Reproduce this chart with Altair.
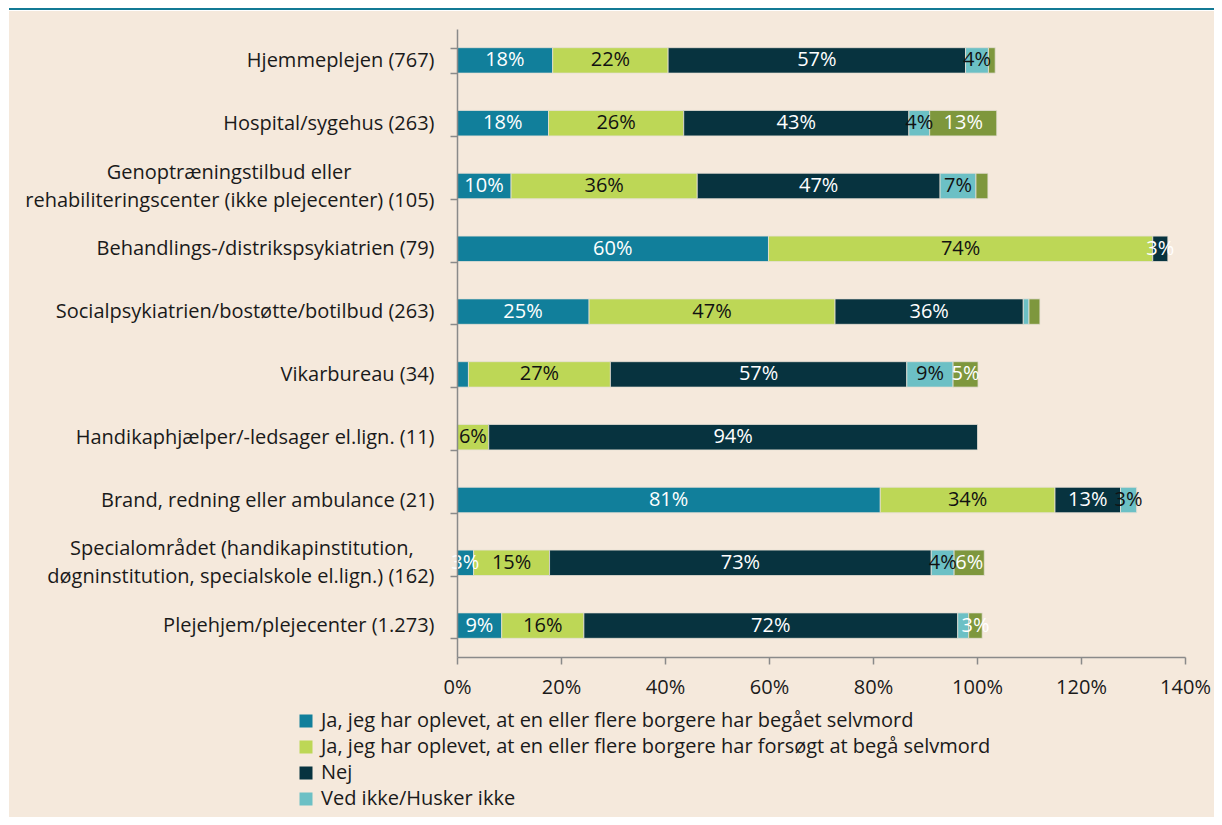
import altair as alt
import pandas as pd

NB = "\u00a0"
ZW = "\u200b"
categories = [
    "Hjemmeplejen (767)",
    "Hospital/sygehus (263)",
    "Genoptræningstilbud eller" + NB * 16 + ZW + "|rehabiliteringscenter (ikke plejecenter) (105)",
    "Behandlings-/distrikspsykiatrien (79)",
    "Socialpsykiatrien/bostøtte/botilbud (263)",
    "Vikarbureau (34)",
    "Handikaphjælper/-ledsager el.lign. (11)",
    "Brand, redning eller ambulance (21)",
    "Specialområdet (handikapinstitution," + NB * 4 + ZW + "|døgninstitution, specialskole el.lign.) (162)",
    "Plejehjem/plejecenter (1.273)",
]

series = [
    "Ja, jeg har oplevet, at en eller flere borgere har begået selvmord",
    "Ja, jeg har oplevet, at en eller flere borgere har forsøgt at begå selvmord",
    "Nej",
    "Ved ikke/Husker ikke",
    "Øvrige",
]

begaaet = [18.4, 17.6, 10.4, 59.9, 25.4, 2.2, 0.0, 81.4, 3.2, 8.6]
forsoegt = [22.2, 26.0, 35.8, 73.9, 47.3, 27.3, 6.1, 33.6, 14.6, 15.8]
nej = [57.2, 43.3, 46.7, 2.9, 36.2, 57.0, 94.0, 12.6, 73.4, 71.9]
ved_ikke = [4.4, 4.0, 6.9, 0.0, 1.1, 8.9, 0.0, 3.1, 4.4, 2.1]
oevrige = [1.3, 12.9, 2.3, 0.0, 2.1, 4.8, 0.0, 0.0, 5.8, 2.6]

x_ticks = [0, 20, 40, 60, 80, 100, 120, 140]

colors = ["#117f9b", "#bdd756", "#07333f", "#6cc0c5", "#7e973d"]
BEIGE = "#f5e9dc"
TEAL = "#137a95"
FONT = "Open Sans"
TXT = "#1a1a1a"
AX = "#8a8a8a"

lists = [begaaet, forsoegt, nej, ved_ikke, oevrige]
rows = []
for i, c in enumerate(categories):
    for j, s in enumerate(series):
        rows.append({"cat": c, "series": s, "order": j, "value": lists[j][i]})
df = pd.DataFrame(rows)

base = alt.Chart(df).transform_filter("datum.value > 0").transform_stack(
    stack="value", groupby=["cat"], sort=[alt.SortField("order", order="ascending")], as_=["x0", "x1"]
).transform_calculate(mid="(datum.x0 + datum.x1) / 2")

y_enc = alt.Y(
    "cat:N",
    sort=categories,
    scale=alt.Scale(paddingInner=0.595, paddingOuter=0.2975),
    axis=alt.Axis(
        title=None, tickBand="extent", labelExpr="split(datum.label, '|')",
        labelFont=FONT, labelFontSize=20, labelLineHeight=28, labelPadding=16,
        labelOffset={"condition": {"test": "indexof(datum.label, '|') >= 0", "value": -14}, "value": 0},
        labelLimit=600, labelColor=TXT, tickSize=7, tickColor=AX, tickWidth=1.5,
        domainColor=AX, domainWidth=1.5, zindex=1,
    ),
)

bars = base.mark_bar(stroke="#e6e0d6", strokeWidth=0.8).encode(
    x=alt.X(
        "x0:Q",
        scale=alt.Scale(domain=[0, 140], nice=False),
        axis=alt.Axis(
            title=None, values=x_ticks, labelExpr="datum.value + '%'", grid=False,
            labelFont=FONT, labelFontSize=20, labelColor=TXT, labelPadding=13,
            tickSize=7, tickColor=AX, tickWidth=1.5, domainColor=AX, domainWidth=1.5,
            zindex=1, labelFlush=False,
        ),
    ),
    x2="x1:Q",
    y=y_enc,
    color=alt.Color(
        "series:N",
        scale=alt.Scale(domain=series, range=colors),
        legend=alt.Legend(
            values=series[:4], orient="none", legendX=-161, legendY=682, title=None,
            symbolType="square", symbolSize=169, symbolStrokeWidth=0,
            labelFont=FONT, labelFontSize=20, labelColor=TXT, labelLimit=1000,
            rowPadding=6, labelOffset=5, padding=0, direction="vertical", zindex=1,
        ),
    ),
)

labels = base.transform_filter("datum.value >= 2.5").transform_calculate(
    lab="format(datum.value, '.0f') + '%'"
).mark_text(font=FONT, fontSize=20, baseline="middle", align="center").encode(
    x="mid:Q",
    y=alt.Y("cat:N", sort=categories),
    text="lab:N",
    color=alt.condition("datum.order == 1 || datum.order == 3", alt.value("#111111"), alt.value("#ffffff")),
)

one = pd.DataFrame({"k": [0]})
bg = alt.Chart(one).mark_rect(color=BEIGE).encode(
    x=alt.value(-448), x2=alt.value(757), y=alt.value(-18), y2=alt.value(788)
)
topline = alt.Chart(one).mark_rule(color=TEAL, strokeWidth=2).encode(
    x=alt.value(-448), x2=alt.value(757), y=alt.value(-20)
)

chart = alt.layer(bg, topline, bars, labels).properties(
    width=728, height=628,
    padding={"left": 449, "top": 21, "right": 29, "bottom": 160},
    autosize=alt.AutoSizeParams(type="none"),
    background="#ffffff",
).configure_view(stroke=None)

chart.save("out.html", embed_options={"renderer": "svg", "actions": False})
